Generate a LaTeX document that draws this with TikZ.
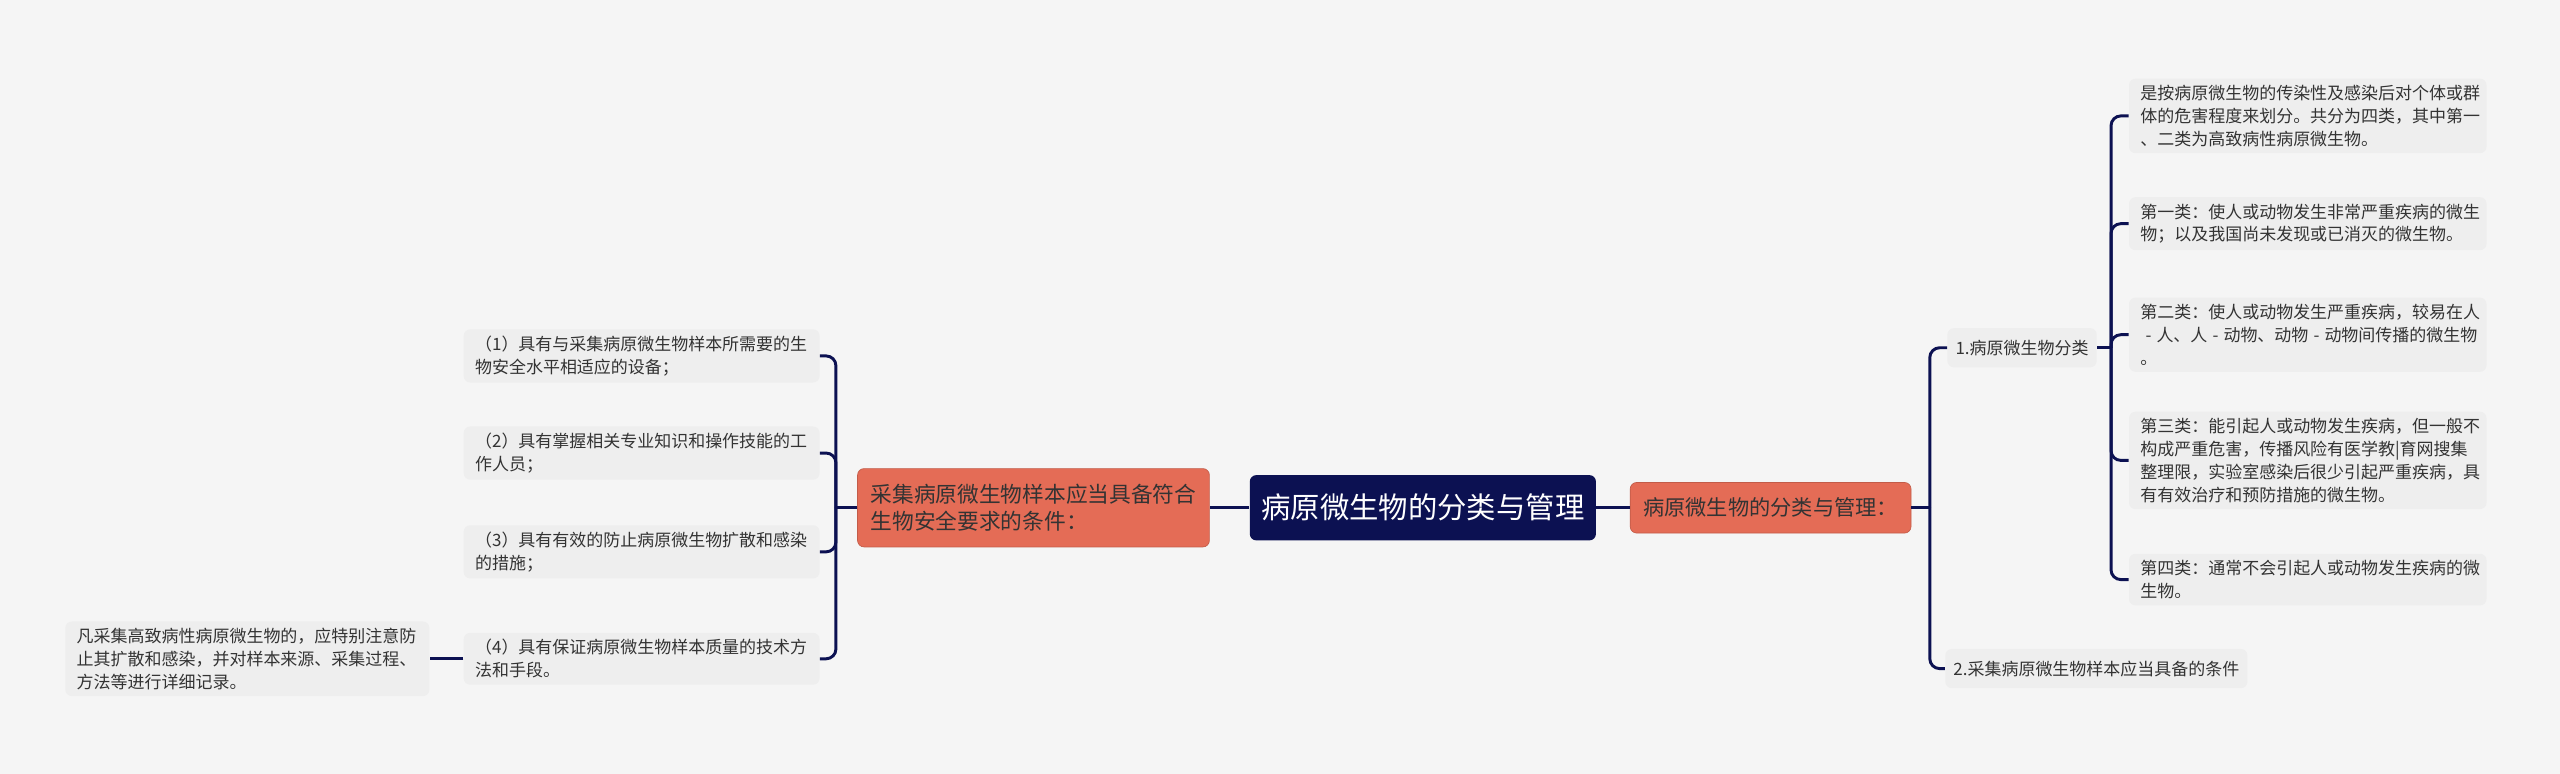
\documentclass[tikz,border=0pt]{standalone}
\usepackage{fontspec}
\setmainfont{Noto Sans CJK SC}
\definecolor{bg}{HTML}{F5F5F5}
\definecolor{leafgray}{HTML}{EEEEEE}
\definecolor{navy}{HTML}{0C1152}
\definecolor{salmon}{HTML}{E46C56}
\definecolor{ink}{HTML}{333333}
\newcommand{\dash}{\hspace{0.3em}-\hspace{0.3em}}
\begin{document}
\begin{tikzpicture}[x=1pt,y=-1pt,
    link/.style={draw=navy,line width=1.8pt,rounded corners=6pt},
    leaf/.style={fill=leafgray,rounded corners=4pt,inner xsep=7pt,inner ysep=4pt,
        align=left,text=ink,font=\fontsize{10.4}{14}\selectfont},
    topic/.style={fill=leafgray,rounded corners=4pt,inner xsep=5pt,minimum height=24pt,
        text=ink,font=\fontsize{10.4}{14}\selectfont},
    mainbox/.style={fill=salmon,draw=salmon!85!black,line width=0.4pt,rounded corners=4pt,
        align=left,text=black!80,inner xsep=8pt},
    rootbox/.style={fill=navy,rounded corners=4pt,text=white,inner xsep=7pt,
        minimum height=40pt,font=\fontsize{18}{22}\selectfont}]
    \fill[bg] (0,0) rectangle (1568,474);
    \useasboundingbox (0,0) rectangle (1568,474);

    % centre and the two main branches
    \node[rootbox] (root) at (871.5,311) {病原微生物的分类与管理};
    \node[mainbox,minimum height=31pt,font=\fontsize{13}{16}\selectfont] (manage) at (1084.5,311) {病原微生物的分类与管理：};
    \node[mainbox,minimum height=48pt,font=\fontsize{13.3}{17}\selectfont] (collect) at (633,311)
        {采集病原微生物样本应当具备符合\\生物安全要求的条件：};

    % right side
    \node[topic] (cls) at (1238.5,213) {1.病原微生物分类};
    \node[topic] (cond) at (1284,409.5) {2.采集病原微生物样本应当具备的条件};

    \node[leaf,text width=205pt] (clsA) at (1413.5,71)
        {是按病原微生物的传染性及感染后对个体或群\\体的危害程度来划分。共分为四类，其中第一\\、二类为高致病性病原微生物。};
    \node[leaf,text width=205pt] (clsB) at (1413.5,137)
        {第一类：使人或动物发生非常严重疾病的微生\\物；以及我国尚未发现或已消灭的微生物。};
    \node[leaf,text width=205pt] (clsC) at (1413.5,205)
        {第二类：使人或动物发生严重疾病，较易在人\\\mbox{\dash 人、人\dash 动物、动物\dash 动物间传播的微生物}\\。};
    \node[leaf,text width=205pt] (clsD) at (1413.5,282)
        {第三类：能引起人或动物发生疾病，但一般不\\构成严重危害，传播风险有医学教|育网搜集\\整理限，实验室感染后很少引起严重疾病，具\\有有效治疗和预防措施的微生物。};
    \node[leaf,text width=205pt] (clsE) at (1413.5,355)
        {第四类：通常不会引起人或动物发生疾病的微\\生物。};

    % left side
    \node[leaf,text width=204pt] (req1) at (393,218)
        {（1）具有与采集病原微生物样本所需要的生\\物安全水平相适应的设备；};
    \node[leaf,text width=204pt] (req2) at (393,277.5)
        {（2）具有掌握相关专业知识和操作技能的工\\作人员；};
    \node[leaf,text width=204pt] (req3) at (393,338)
        {（3）具有有效的防止病原微生物扩散和感染\\的措施；};
    \node[leaf,text width=204pt] (req4) at (393,403.5)
        {（4）具有保证病原微生物样本质量的技术方\\法和手段。};
    \node[leaf,text width=209pt] (note) at (151.5,403.5)
        {凡采集高致病性病原微生物的，应特别注意防\\止其扩散和感染，并对样本来源、采集过程、\\方法等进行详细记录。};

    % connectors
    \draw[link] (root.east) -- (manage.west);
    \draw[link] (root.west) -- (collect.east);
    \draw[link] (req4.west) -- (note.east);

    \coordinate (jR) at (1182,311);
    \draw[link] (manage.east) -- (jR);
    \foreach \c in {cls,cond}
        \draw[link] (jR) |- (\c.west);

    \coordinate (jC) at (1293,213);
    \draw[link] (cls.east) -- (jC);
    \foreach \c in {clsA,clsB,clsC,clsD,clsE}
        \draw[link] (jC) |- (\c.west);

    \coordinate (jL) at (512,311);
    \draw[link] (collect.west) -- (jL);
    \foreach \c in {req1,req2,req3,req4}
        \draw[link] (jL) |- (\c.east);

\end{tikzpicture}
\end{document}
